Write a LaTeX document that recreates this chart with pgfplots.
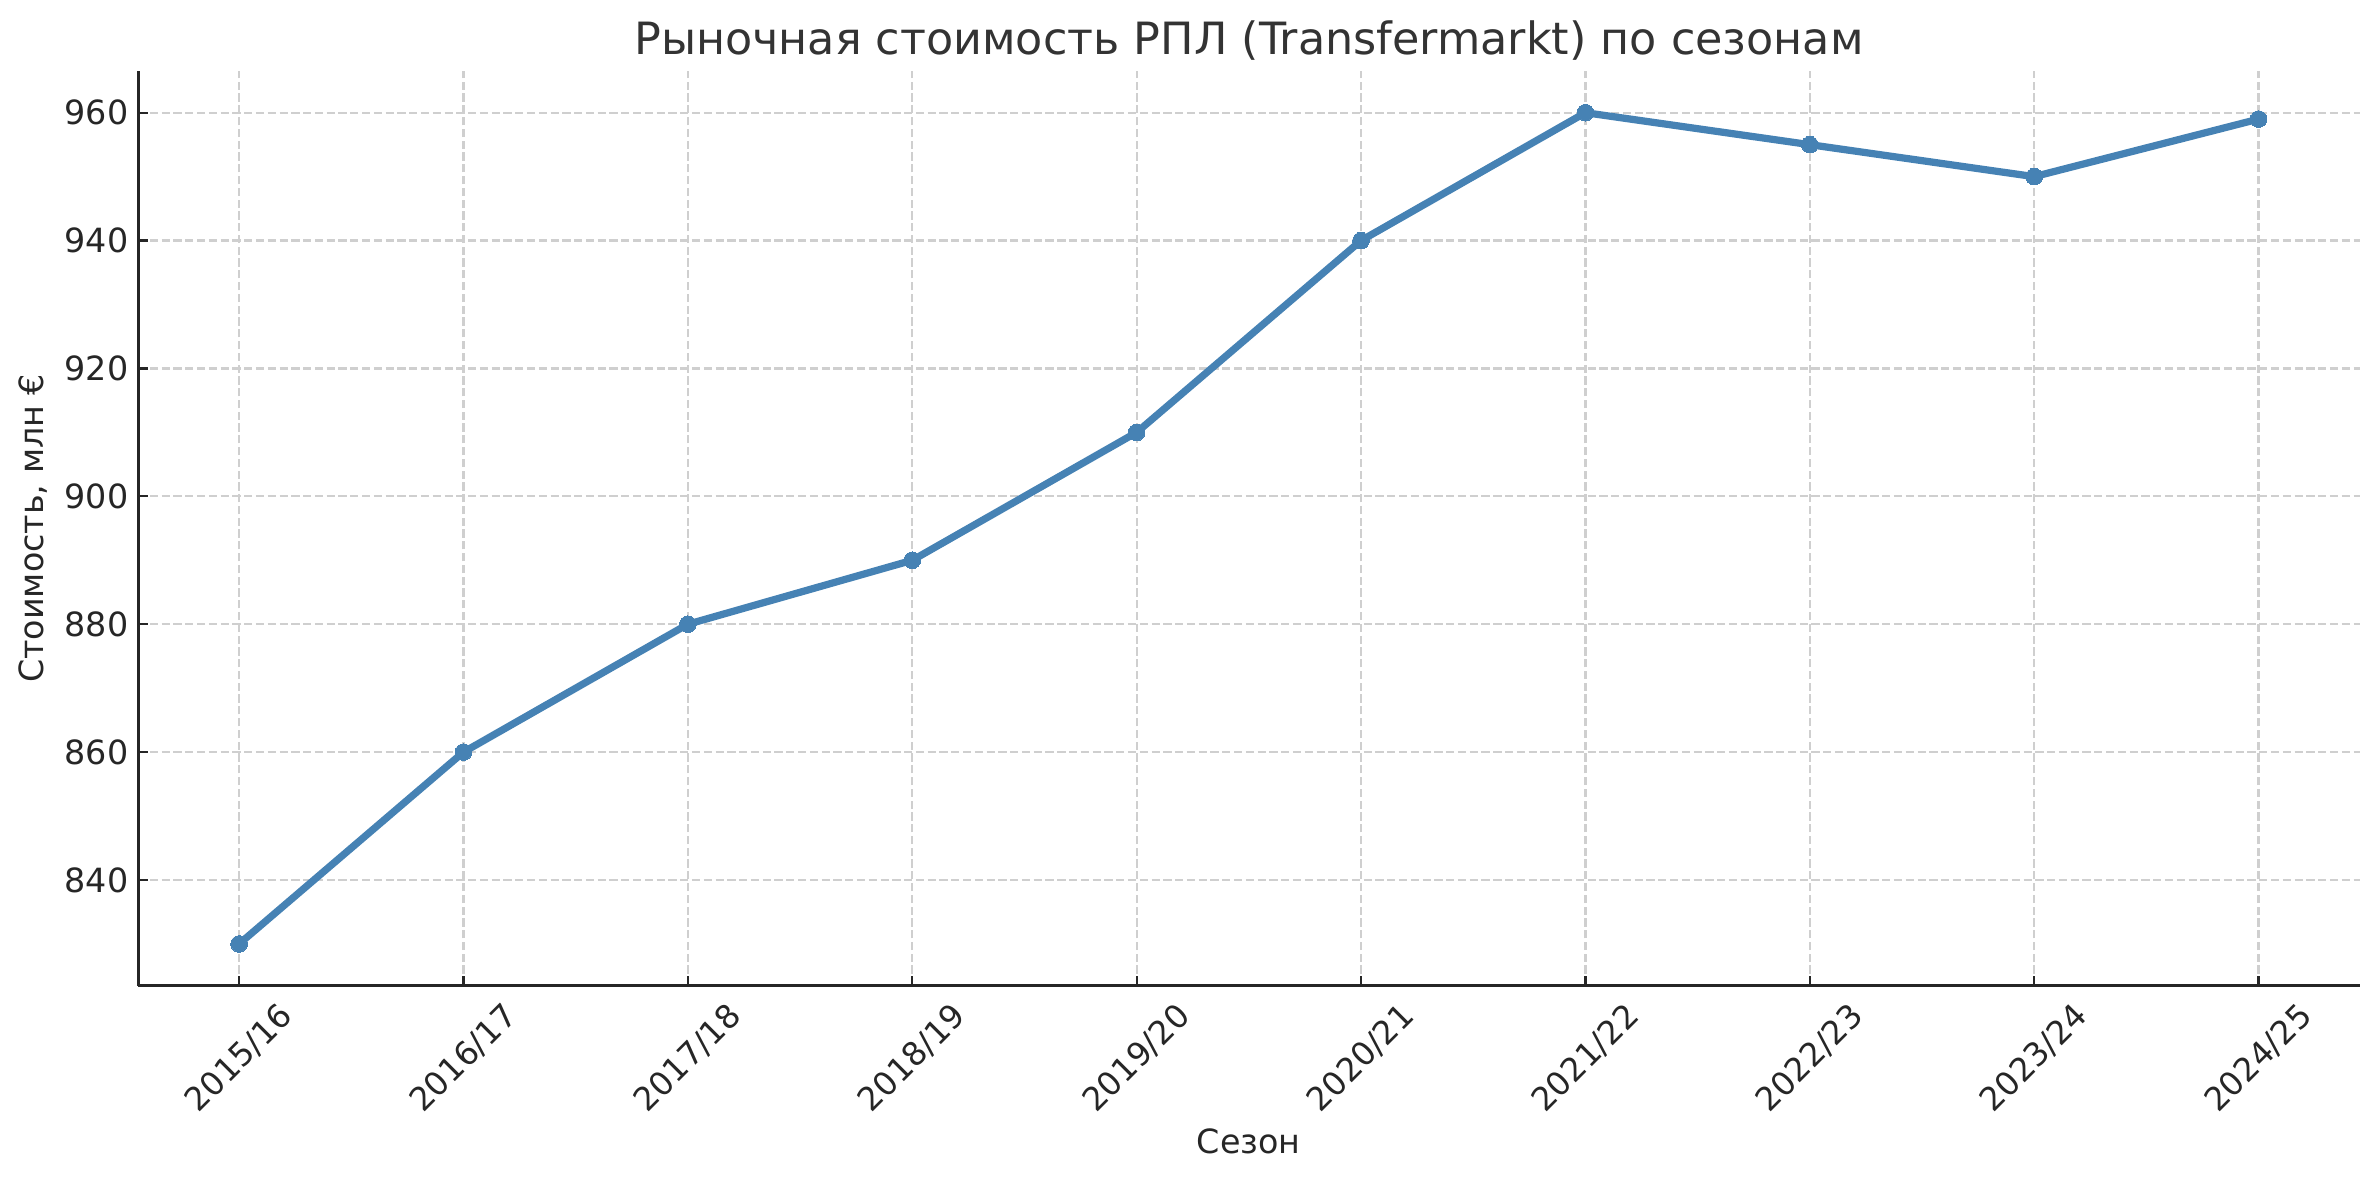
\documentclass[border=0pt]{standalone}
\usepackage{pgfplots}
\pgfplotsset{compat=1.18}
\usepackage{fontspec}
\setmainfont{DejaVu Sans}
\definecolor{steel}{HTML}{4682B4}
\definecolor{spine}{HTML}{262626}
\definecolor{gridc}{HTML}{CFCFCF}
\definecolor{titlec}{HTML}{333333}
\begin{document}
\begin{tikzpicture}
\useasboundingbox (-49.7pt,-70.2pt) rectangle (806.3pt,354.6pt);
\begin{axis}[
  scale only axis,
  width=799.3pt, height=329pt,
  xmin=-0.45, xmax=9.45,
  ymin=823.5, ymax=966.5,
  axis x line*=bottom, axis y line*=left,
  axis line style={-, color=spine, line width=1pt},
  tick align=inside,
  major tick length=3.5pt,
  tick style={color=spine, line width=0.8pt},
  xtick={0,...,9},
  xticklabels={\rotatebox{45}{2015/16},\rotatebox{45}{2016/17},\rotatebox{45}{2017/18},\rotatebox{45}{2018/19},\rotatebox{45}{2019/20},\rotatebox{45}{2020/21},\rotatebox{45}{2021/22},\rotatebox{45}{2022/23},\rotatebox{45}{2023/24},\rotatebox{45}{2024/25}},
  xticklabel style={anchor=north, font=\fontsize{11.7}{14}\selectfont, text=spine, inner sep=0pt, yshift=-5.4pt},
  ytick={840,860,...,960},
  yticklabel style={font=\fontsize{12}{14}\selectfont, text=spine, /pgf/number format/assume math mode=true},
  grid=major,
  major grid style={color=gridc, line width=0.8pt, dash pattern=on 2.96pt off 1.28pt},
  xlabel={Сезон},
  ylabel={Стоимость, млн €},
  xlabel style={at={(rel axis cs:0.5,0)}, anchor=center, yshift=-56pt, font=\fontsize{12}{14}\selectfont, text=spine},
  ylabel style={at={(rel axis cs:0,0.5)}, anchor=center, rotate=0, yshift=37.8pt, font=\fontsize{12}{14}\selectfont, text=spine},
  every axis title shift=0pt,
  title={Рыночная стоимость РПЛ (Transfermarkt) по сезонам},
  title style={at={(rel axis cs:0.5,1)}, anchor=center, yshift=10.9pt, font=\fontsize{16}{19}\selectfont, text=titlec},
  clip=false,
]
\addplot[color=steel, line width=2.6pt, mark=*, mark size=3pt, mark options={fill=steel, draw=steel, line width=0pt}]
coordinates {
(0,830) (1,860) (2,880) (3,890) (4,910) (5,940) (6,960) (7,955) (8,950) (9,959)
};
\end{axis}
\end{tikzpicture}
\end{document}
